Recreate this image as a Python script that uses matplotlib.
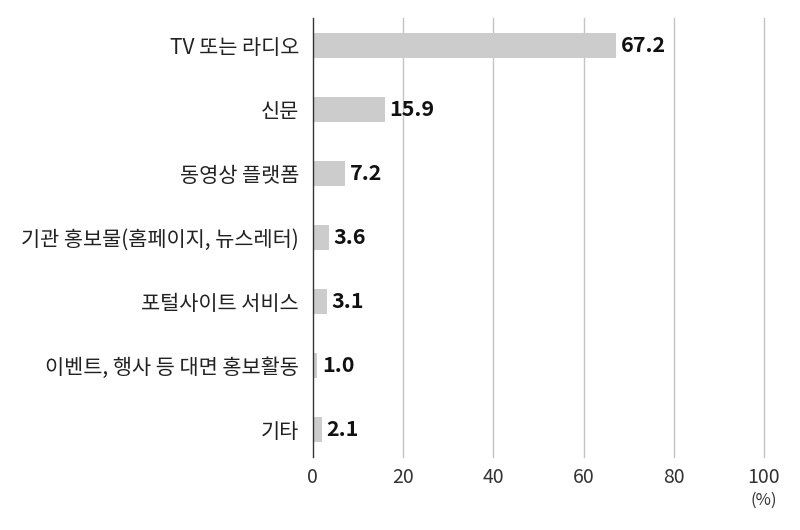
import matplotlib
matplotlib.use("Agg")
import matplotlib.pyplot as plt

plt.rcParams['font.family'] = ['Noto Sans CJK KR', 'DejaVu Sans']

categories = ["TV 또는 라디오", "신문", "동영상 플랫폼", "기관 홍보물(홈페이지, 뉴스레터)",
              "포털사이트 서비스", "이벤트, 행사 등 대면 홍보활동", "기타"]
values = [67.2, 15.9, 7.2, 3.6, 3.1, 1.0, 2.1]
xticks = [0, 20, 40, 60, 80, 100]

fig = plt.figure(figsize=(8, 5.3), dpi=100)
ax = fig.add_axes([0.391, 0.138, 0.564, 0.828])

y = list(range(len(categories)))
ax.barh(y, values, height=0.4, color="#cccccc", zorder=2)
for yi, v in zip(y, values):
    ax.text(v + 1.0, yi, f"{v:.1f}", va="center", ha="left", fontsize=15.5,
            fontweight="bold", color="#111111")

ax.set_xlim(0, 100)
ax.set_ylim(len(categories) - 0.57, -0.43)
ax.set_yticks(y)
ax.set_yticklabels(categories, fontsize=15, color="#222222")
ax.set_xticks(xticks)
ax.set_xticklabels([str(t) for t in xticks], fontsize=14, color="#333333")
ax.tick_params(axis="both", length=0)
ax.tick_params(axis="y", pad=10)
ax.tick_params(axis="x", pad=7)
for t in xticks[1:]:
    ax.axvline(t, color="#c4c4c4", linewidth=1, zorder=1, clip_on=False)
for s in ["top", "right", "bottom"]:
    ax.spines[s].set_visible(False)
ax.spines["left"].set_color("#333333")
ax.spines["left"].set_linewidth(1)
ax.spines["left"].set_zorder(3)

ax.text(100, -0.08, "(%)", transform=ax.get_xaxis_transform(), ha="center", va="top",
        fontsize=12, color="#333333")

fig.savefig("out.png", dpi=100)
